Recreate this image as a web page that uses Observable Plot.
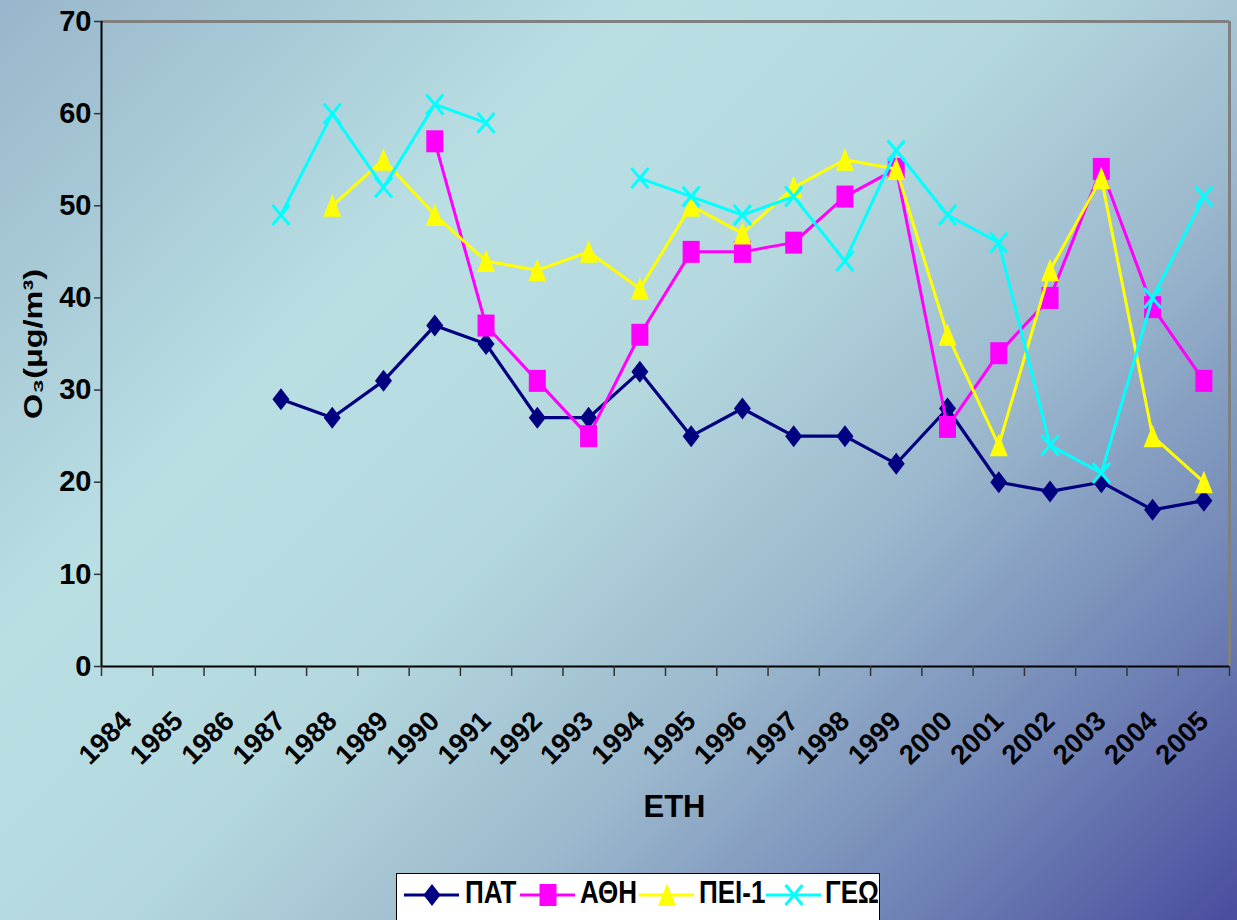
<!DOCTYPE html>
<html>
<head>
<meta charset="utf-8">
<script src="https://cdn.jsdelivr.net/npm/d3@7"></script>
<script src="https://cdn.jsdelivr.net/npm/@observablehq/plot@0.6"></script>
<style>
html, body { margin: 0; padding: 0; width: 1237px; height: 920px; overflow: hidden; }
body {
  position: relative;
  font-family: "Liberation Sans", Arial, sans-serif;
  background: linear-gradient(135deg, #98b6cb 0%, #b9dfe3 30%, #b4d8de 48%, #9cb9cd 65%, #7489b8 82%, #4a4c9e 100%);
}
#chart { position: absolute; left: 0; top: 0; }
#legend {
  position: absolute; left: 396px; top: 873px; width: 484px; height: 60px;
  background: #fff; border: 1.5px solid #000; box-sizing: border-box;
}
.li-sym { position: absolute; top: 6px; width: 56px; height: 30px; overflow: visible; }
.li-txt {
  position: absolute; top: 3px; font-weight: bold; font-size: 26px; line-height: 30px;
  transform: scaleY(1.2); transform-origin: 0 50%; color: #000; white-space: nowrap;
}
</style>
</head>
<body>
<div id="chart"></div>
<div id="legend"></div>
<script>
// ---- data ----
const years = [1984, 1985, 1986, 1987, 1988, 1989, 1990, 1991, 1992, 1993, 1994,
               1995, 1996, 1997, 1998, 1999, 2000, 2001, 2002, 2003, 2004, 2005];
const seriesNames = ["ΠΑΤ", "ΑΘΗ", "ΠΕΙ-1", "ΓΕΩ"];
const pat = [null, null, null, 29, 27, 31, 37, 35, 27, 27, 32, 25, 28, 25, 25, 22, 28, 20, 19, 20, 17, 18];
const ath = [null, null, null, null, null, null, 57, 37, 31, 25, 36, 45, 45, 46, 51, 54, 26, 34, 40, 54, 39, 31];
const pei = [null, null, null, null, 50, 55, 49, 44, 43, 45, 41, 50, 47, 52, 55, 54, 36, 24, 43, 53, 25, 20];
const geo = [null, null, null, 49, 60, 52, 61, 59, null, null, 53, 51, 49, 51, 44, 56, 49, 46, 24, 21, 40, 51];
const yTicks = [0, 10, 20, 30, 40, 50, 60, 70];
const xTitle = "ΕΤΗ";
const yTitle = "O₃(μg/m³)";

// ---- marker shapes (d3-symbol-like objects) ----
const diamond = {draw(c) { c.moveTo(0, -11); c.lineTo(8.5, 0); c.lineTo(0, 11); c.lineTo(-8.5, 0); c.closePath(); }};
const square = {draw(c) { c.moveTo(-8.5, -11); c.lineTo(8.5, -11); c.lineTo(8.5, 11); c.lineTo(-8.5, 11); c.closePath(); }};
const triangle = {draw(c) { c.moveTo(0, -11.5); c.lineTo(9, 11); c.lineTo(-9, 11); c.closePath(); }};
const cross = {draw(c) { c.moveTo(-8.5, -10); c.lineTo(8.5, 10); c.moveTo(8.5, -10); c.lineTo(-8.5, 10); }};

const series = [
  {name: seriesNames[0], values: pat, color: "#000080", symbol: diamond, filled: true, lw: 3.2},
  {name: seriesNames[1], values: ath, color: "#ff00ff", symbol: square, filled: true, lw: 3},
  {name: seriesNames[2], values: pei, color: "#ffff00", symbol: triangle, filled: true, lw: 3},
  {name: seriesNames[3], values: geo, color: "#00ffff", symbol: cross, filled: false, lw: 3}
];

const xDomain = [years[0] - 0.5, years[years.length - 1] + 0.5];
const boundaries = years.map(y => y - 0.5).concat([xDomain[1]]);

const marks = [
  Plot.ruleY([yTicks[yTicks.length - 1]], {stroke: "#808080", strokeWidth: 3}),
  Plot.ruleX([xDomain[1]], {stroke: "#808080", strokeWidth: 3}),
  Plot.ruleX([xDomain[0]], {stroke: "#000", strokeWidth: 2}),
  Plot.ruleY([yTicks[0]], {stroke: "#000", strokeWidth: 2}),
  Plot.axisY(yTicks, {tickSize: 7, tickPadding: 3, fontSize: 29, fontWeight: "bold", stroke: "#333", strokeWidth: 1.5, tickFormat: d => String(d), label: null, fill: "#000"}),
  Plot.axisX(boundaries, {tickSize: 10, tickFormat: () => "", label: null, stroke: "#333", strokeWidth: 1.5}),
  Plot.text(years, {x: d => d, frameAnchor: "bottom", dy: 50, dx: 0, rotate: -45, textAnchor: "end", lineAnchor: "middle",
    text: d => String(d), fontSize: 27.5, fontWeight: "bold", fill: "#000"}),
  Plot.text([xTitle], {frameAnchor: "bottom", dx: 9, dy: 150, fontSize: 31, fontWeight: "bold", fill: "#000"}),
  Plot.text([yTitle], {frameAnchor: "left", dx: -68, rotate: -90, textAnchor: "middle", fontSize: 26, fontWeight: "bold", fill: "#000"})
];

for (const s of series) {
  const rows = years.map((yr, i) => ({year: yr, value: s.values[i]}));
  marks.push(Plot.line(rows, {x: "year", y: "value", stroke: s.color, strokeWidth: s.lw, curve: "linear"}));
  marks.push(Plot.dot(rows.filter(r => r.value != null), {
    x: "year", y: "value", r: 1, symbol: s.symbol,
    fill: s.filled ? s.color : "none", stroke: s.filled ? "none" : s.color, strokeWidth: s.filled ? 0 : 3
  }));
}

const chart = Plot.plot({
  width: 1237,
  height: 860,
  marginLeft: 101,
  marginRight: 8,
  marginTop: 21,
  marginBottom: 194,
  x: {domain: xDomain, axis: null},
  y: {domain: [yTicks[0], yTicks[yTicks.length - 1]], axis: null},
  style: {background: "transparent", fontFamily: "'Liberation Sans', Arial, sans-serif", overflow: "visible"},
  marks
});
document.getElementById("chart").appendChild(chart);
d3.select(chart).selectAll("text")
  .filter(function() { return this.textContent === yTitle; })
  .attr("textLength", 150).attr("lengthAdjust", "spacingAndGlyphs");

// ---- legend ----
const legend = d3.select("#legend");
const symLeft = [7, 123, 242, 369];
const txtLeft = [68, 183, 302, 428];
series.forEach((s, i) => {
  const svg = legend.append("svg").attr("class", "li-sym").style("left", symLeft[i] + "px")
    .attr("width", 56).attr("height", 30);
  svg.append("line").attr("x1", 0).attr("x2", 55).attr("y1", 15).attr("y2", 15)
    .attr("stroke", s.color).attr("stroke-width", 3);
  const p = d3.path();
  s.symbol.draw(p);
  svg.append("path").attr("d", p.toString()).attr("transform", "translate(28,15)")
    .attr("fill", s.filled ? s.color : "none").attr("stroke", s.filled ? "none" : s.color).attr("stroke-width", 3);
  legend.append("div").attr("class", "li-txt").style("left", txtLeft[i] + "px").text(s.name);
});
</script>
</body>
</html>
